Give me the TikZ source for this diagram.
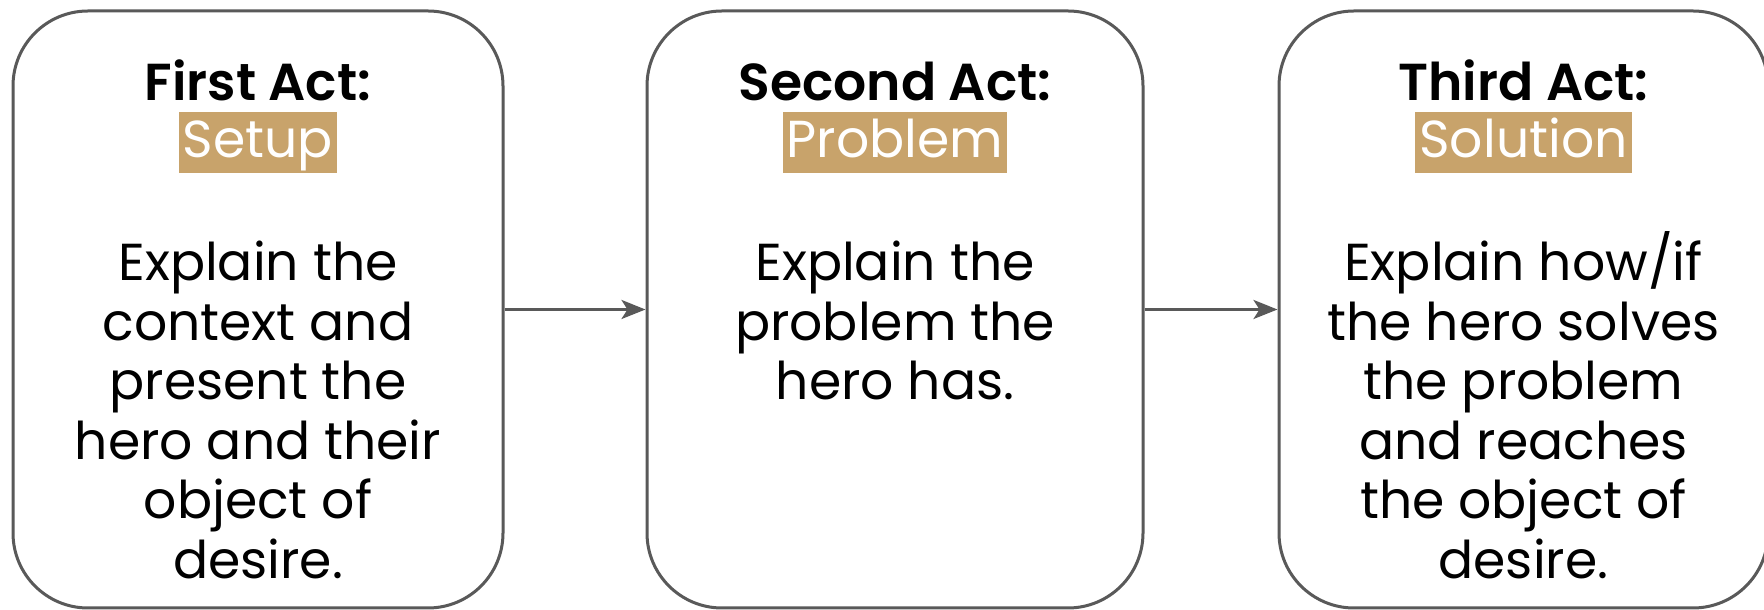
\documentclass[tikz,border=0pt]{standalone}
\usepackage{fontspec}
\setmainfont{Poppins}[BoldFont={Poppins SemiBold}]
\usetikzlibrary{arrows.meta}
\definecolor{edgegray}{HTML}{595959}
\definecolor{hltan}{RGB}{200,163,107}
\begin{document}
\begin{tikzpicture}[x=1pt,y=1pt,
  actbox/.style={draw=edgegray, line width=3pt, rounded corners=75pt, fill=white,
    minimum width=#1, minimum height=597pt, inner sep=0pt},
  acttitle/.style={anchor=base, inner sep=0pt, font=\fontsize{52}{60}\selectfont\bfseries},
  acttag/.style={fill=hltan, text=white, inner xsep=4pt, inner ysep=0pt,
    text height=46pt, text depth=15pt, font=\fontsize{52}{60}\selectfont},
  bodyline/.style={anchor=base, inner sep=0pt, font=\fontsize{52}{60}\selectfont},
  flow/.style={draw=edgegray, line width=3pt, -{Stealth[length=24pt,width=19pt,inset=6pt]}}]
\useasboundingbox (0,0) rectangle (1764,610);
\fill[white] (0,0) rectangle (1764,610);

% boxes
\node[actbox=490pt] (b1) at (258,300.5) {};
\node[actbox=496pt] (b2) at (895,300.5) {};
\node[actbox=489pt] (b3) at (1523.5,300.5) {};

% arrows
\draw[flow] (b1.east) -- (b2.west);
\draw[flow] (b2.east) -- (b3.west);

% titles
\node[acttitle] (t1) at (258,509) {First Act:};
\node[acttitle] (t2) at (895,509) {Second Act:};
\node[acttitle] (t3) at (1523.5,509) {Third Act:};

% highlighted tags
\node[acttag] (g1) at (258,467.5) {Setup};
\node[acttag] (g2) at (895,467.5) {Problem};
\node[acttag] (g3) at (1523.5,467.5) {Solution};

% body texts
\foreach \txt [count=\i] in {Explain the, context and, present the, hero and their, object of, desire.}
  \node[bodyline] (p1-\i) at (258,{329-59.5*(\i-1)}) {\txt};
\foreach \txt [count=\i] in {Explain the, problem the, hero has.}
  \node[bodyline] (p2-\i) at (895,{329-59.5*(\i-1)}) {\txt};
\foreach \txt [count=\i] in {Explain how/if, the hero solves, the problem, and reaches, the object of, desire.}
  \node[bodyline] (p3-\i) at (1523.5,{329-59.5*(\i-1)}) {\txt};
\end{tikzpicture}
\end{document}
